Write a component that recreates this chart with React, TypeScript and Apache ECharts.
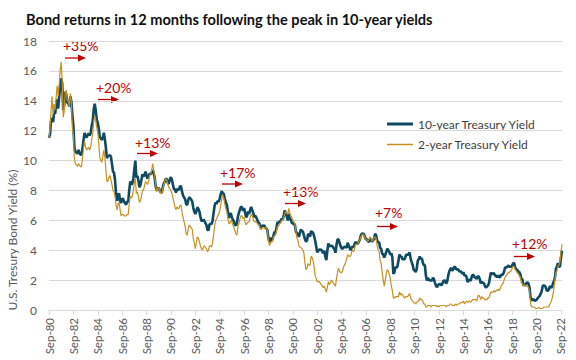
import React, { useEffect, useRef } from "react";
import * as echarts from "echarts";

const startYear = 1980;
const startMonth = 8; // Sep (0-based)
const monthNames = ["Jan", "Feb", "Mar", "Apr", "May", "Jun", "Jul", "Aug", "Sep", "Oct", "Nov", "Dec"];

// 10-year Treasury yield, monthly, Sep-80 .. Oct-22
const tenYear = [
  11.51, 11.75, 12.68, 12.84,
  12.57, 13.19, 13.12, 13.68, 14.10, 13.47, 14.28, 14.94, 15.50, 15.15, 13.39, 13.72,
  14.59, 14.43, 13.86, 13.87, 13.62, 14.30, 13.95, 13.06, 12.34, 10.91, 10.55, 10.54,
  10.46, 10.72, 10.51, 10.40, 10.38, 10.85, 11.38, 11.85, 11.65, 11.54, 11.69, 11.83,
  11.67, 11.84, 12.32, 12.63, 13.41, 13.80, 13.36, 12.72, 12.52, 12.16, 11.57, 11.50,
  11.38, 11.51, 11.86, 11.43, 10.85, 10.16, 10.31, 10.33, 10.37, 10.24, 9.78, 9.26,
  9.19, 8.70, 7.78, 7.30, 7.71, 7.80, 7.30, 7.17, 7.45, 7.43, 7.25, 7.11,
  7.08, 7.25, 7.25, 8.02, 8.61, 8.40, 8.45, 8.76, 9.42, 10.00, 8.86, 8.99,
  8.67, 8.21, 8.37, 8.72, 9.09, 8.92, 9.06, 9.26, 8.98, 8.80, 8.96, 9.11,
  9.09, 9.17, 9.36, 9.18, 8.86, 8.28, 8.02, 8.11, 8.19, 8.01, 7.87, 7.84,
  8.21, 8.47, 8.59, 8.79, 8.76, 8.48, 8.47, 8.75, 8.89, 8.72, 8.39, 8.08,
  8.09, 7.85, 8.11, 8.04, 8.07, 8.28, 8.27, 7.90, 7.65, 7.53, 7.42, 7.09,
  7.03, 7.34, 7.54, 7.48, 7.39, 7.26, 6.84, 6.59, 6.42, 6.59, 6.87, 6.77,
  6.60, 6.26, 5.98, 5.97, 6.04, 5.96, 5.81, 5.68, 5.36, 5.33, 5.72, 5.77,
  5.75, 5.97, 6.48, 6.97, 7.18, 7.10, 7.30, 7.24, 7.46, 7.74, 7.96, 7.81,
  7.78, 7.47, 7.20, 7.06, 6.63, 6.17, 6.28, 6.49, 6.20, 6.04, 5.93, 5.71,
  5.65, 5.81, 6.27, 6.51, 6.74, 6.91, 6.87, 6.64, 6.83, 6.53, 6.20, 6.30,
  6.58, 6.42, 6.69, 6.89, 6.71, 6.49, 6.22, 6.30, 6.21, 6.03, 5.88, 5.81,
  5.54, 5.57, 5.65, 5.64, 5.65, 5.50, 5.46, 5.34, 4.81, 4.53, 4.83, 4.65,
  4.72, 5.00, 5.23, 5.18, 5.54, 5.90, 5.79, 5.94, 5.92, 6.11, 6.03, 6.28,
  6.66, 6.52, 6.26, 5.99, 6.44, 6.10, 6.05, 5.83, 5.80, 5.74, 5.72, 5.24,
  5.16, 5.10, 4.89, 5.14, 5.39, 5.28, 5.24, 4.97, 4.73, 4.57, 4.65, 5.09,
  5.04, 4.91, 5.28, 5.21, 5.16, 4.93, 4.65, 4.26, 3.87, 3.94, 4.05, 4.03,
  4.05, 3.90, 3.81, 3.96, 3.57, 3.33, 3.98, 4.45, 4.27, 4.29, 4.30, 4.27,
  4.15, 4.08, 3.83, 4.35, 4.72, 4.73, 4.50, 4.28, 4.13, 4.10, 4.19, 4.23,
  4.22, 4.17, 4.50, 4.34, 4.14, 4.00, 4.18, 4.26, 4.20, 4.46, 4.54, 4.47,
  4.42, 4.57, 4.72, 4.99, 5.11, 5.11, 5.09, 4.88, 4.72, 4.73, 4.60, 4.56,
  4.76, 4.72, 4.56, 4.69, 4.75, 5.10, 5.00, 4.67, 4.52, 4.53, 4.15, 4.10,
  3.74, 3.74, 3.51, 3.68, 3.88, 4.10, 4.01, 3.89, 3.69, 3.81, 3.53, 2.42,
  2.52, 2.87, 2.82, 2.93, 3.29, 3.72, 3.56, 3.59, 3.40, 3.39, 3.40, 3.59,
  3.73, 3.69, 3.73, 3.85, 3.42, 3.20, 3.01, 2.70, 2.65, 2.54, 2.76, 3.29,
  3.39, 3.58, 3.41, 3.46, 3.17, 3.00, 3.00, 2.30, 1.98, 2.15, 2.01, 1.98,
  1.97, 1.97, 2.17, 2.05, 1.80, 1.62, 1.53, 1.68, 1.72, 1.75, 1.65, 1.72,
  1.91, 1.98, 1.96, 1.76, 1.93, 2.30, 2.58, 2.74, 2.81, 2.62, 2.72, 2.90,
  2.86, 2.71, 2.72, 2.71, 2.56, 2.60, 2.54, 2.42, 2.53, 2.30, 2.33, 2.21,
  1.88, 1.98, 2.04, 1.94, 2.20, 2.36, 2.32, 2.17, 2.17, 2.07, 2.26, 2.24,
  2.09, 1.78, 1.89, 1.81, 1.81, 1.64, 1.50, 1.56, 1.63, 1.76, 2.14, 2.49,
  2.43, 2.42, 2.48, 2.30, 2.30, 2.19, 2.32, 2.21, 2.20, 2.36, 2.35, 2.40,
  2.58, 2.86, 2.84, 2.87, 2.98, 2.91, 2.89, 2.89, 3.00, 3.15, 3.12, 2.83,
  2.71, 2.68, 2.57, 2.53, 2.40, 2.07, 2.06, 1.63, 1.70, 1.71, 1.81, 1.86,
  1.76, 1.50, 0.87, 0.66, 0.67, 0.73, 0.62, 0.65, 0.68, 0.79, 0.87, 0.93,
  1.08, 1.26, 1.61, 1.64, 1.62, 1.52, 1.32, 1.28, 1.37, 1.58, 1.56, 1.47,
  1.76, 1.93, 2.13, 2.75, 2.90, 3.14, 2.90, 2.90, 3.52, 3.98,
];

// 2-year Treasury yield, monthly, Sep-80 .. Oct-22
const twoYear = [
  11.5, 12.2, 13.3, 14.3,
  13.1, 13.8, 13.4, 14.2, 15.0, 14.3, 15.1, 16.0, 16.6, 15.3, 12.9, 13.3,
  14.6, 14.7, 14.0, 14.0, 13.6, 14.5, 13.9, 12.2, 11.7, 10.1, 9.8, 9.7,
  9.6, 9.8, 9.7, 9.6, 9.6, 10.2, 10.8, 11.3, 10.9, 10.7, 10.8, 10.9,
  10.7, 10.9, 11.4, 11.8, 12.6, 13.0, 12.7, 12.2, 11.9, 11.1, 10.2, 10.0,
  9.9, 10.3, 10.7, 10.2, 9.4, 8.6, 8.6, 8.9, 9.0, 8.7, 8.4, 8.0,
  7.9, 7.6, 7.0, 6.7, 7.1, 7.2, 6.7, 6.3, 6.4, 6.4, 6.3, 6.3,
  6.3, 6.4, 6.4, 7.1, 7.6, 7.5, 7.6, 8.0, 8.5, 8.8, 7.8, 7.9,
  7.6, 7.2, 7.3, 7.6, 8.0, 8.0, 8.3, 8.6, 8.5, 8.4, 8.6, 9.0,
  9.1, 9.3, 9.8, 9.4, 9.0, 8.4, 7.9, 8.1, 8.2, 8.0, 7.8, 7.8,
  8.1, 8.4, 8.6, 8.8, 8.7, 8.4, 8.2, 8.1, 8.0, 7.8, 7.5, 7.2,
  6.9, 6.7, 6.9, 6.8, 6.8, 7.0, 7.0, 6.5, 6.2, 5.9, 5.6, 5.1,
  5.0, 5.4, 5.7, 5.6, 5.5, 5.4, 4.8, 4.5, 4.1, 4.5, 4.9, 4.8,
  4.6, 4.3, 4.1, 4.0, 4.2, 4.3, 4.2, 4.1, 3.9, 4.0, 4.3, 4.3,
  4.2, 4.5, 5.0, 5.6, 6.0, 6.1, 6.3, 6.4, 6.6, 7.0, 7.4, 7.7,
  7.5, 7.1, 6.8, 6.6, 6.2, 5.8, 5.8, 6.0, 5.9, 5.7, 5.5, 5.3,
  5.1, 5.0, 5.6, 5.8, 6.1, 6.3, 6.3, 6.1, 6.2, 5.9, 5.7, 5.8,
  5.9, 5.9, 6.2, 6.4, 6.3, 6.1, 5.9, 5.9, 5.9, 5.8, 5.7, 5.7,
  5.4, 5.4, 5.5, 5.5, 5.5, 5.5, 5.5, 5.3, 4.7, 4.3, 4.5, 4.5,
  4.6, 4.9, 5.0, 5.0, 5.3, 5.6, 5.6, 5.8, 5.8, 6.0, 6.0, 6.2,
  6.4, 6.6, 6.5, 6.4, 6.8, 6.5, 6.3, 6.2, 6.0, 5.9, 5.8, 5.3,
  4.8, 4.7, 4.3, 4.2, 4.2, 4.1, 4.0, 3.8, 3.1, 2.7, 2.8, 3.1,
  3.0, 3.0, 3.6, 3.5, 3.3, 2.9, 2.3, 2.1, 1.9, 1.9, 1.9, 1.8,
  1.7, 1.6, 1.5, 1.6, 1.4, 1.2, 1.5, 1.9, 1.7, 1.8, 2.0, 1.9,
  1.8, 1.7, 1.6, 2.1, 2.5, 2.8, 2.6, 2.5, 2.5, 2.6, 2.9, 3.0,
  3.2, 3.4, 3.7, 3.6, 3.6, 3.6, 3.9, 4.0, 3.9, 4.2, 4.4, 4.4,
  4.4, 4.6, 4.7, 4.9, 5.0, 5.1, 5.0, 4.8, 4.7, 4.7, 4.6, 4.7,
  4.9, 4.8, 4.6, 4.7, 4.8, 4.9, 4.8, 4.3, 4.0, 3.9, 3.3, 3.1,
  2.5, 2.0, 1.6, 2.0, 2.4, 2.7, 2.6, 2.4, 2.1, 1.6, 1.3, 0.8,
  0.8, 0.9, 0.9, 0.9, 0.9, 1.2, 1.0, 1.1, 1.0, 0.9, 0.8, 0.9,
  0.9, 0.9, 1.0, 1.1, 0.8, 0.7, 0.6, 0.5, 0.5, 0.4, 0.5, 0.6,
  0.6, 0.8, 0.7, 0.7, 0.6, 0.4, 0.4, 0.2, 0.2, 0.3, 0.3, 0.3,
  0.2, 0.3, 0.3, 0.3, 0.3, 0.3, 0.2, 0.3, 0.2, 0.3, 0.3, 0.3,
  0.3, 0.3, 0.3, 0.2, 0.3, 0.3, 0.3, 0.4, 0.4, 0.3, 0.3, 0.3,
  0.4, 0.3, 0.4, 0.4, 0.4, 0.5, 0.5, 0.5, 0.6, 0.4, 0.5, 0.6,
  0.5, 0.6, 0.6, 0.5, 0.6, 0.7, 0.7, 0.7, 0.7, 0.6, 0.9, 1.0,
  0.9, 0.7, 0.9, 0.8, 0.8, 0.7, 0.7, 0.7, 0.8, 0.8, 1.0, 1.2,
  1.2, 1.2, 1.3, 1.2, 1.3, 1.3, 1.4, 1.3, 1.4, 1.6, 1.7, 1.8,
  2.0, 2.2, 2.3, 2.4, 2.5, 2.5, 2.6, 2.6, 2.8, 2.9, 2.9, 2.7,
  2.6, 2.5, 2.4, 2.3, 2.2, 1.8, 1.8, 1.6, 1.7, 1.6, 1.6, 1.6,
  1.5, 1.3, 0.5, 0.2, 0.2, 0.2, 0.2, 0.1, 0.1, 0.1, 0.2, 0.1,
  0.1, 0.1, 0.1, 0.2, 0.2, 0.2, 0.2, 0.2, 0.2, 0.4, 0.5, 0.7,
  1.0, 1.4, 2.0, 2.5, 2.6, 2.9, 3.0, 3.2, 3.9, 4.4,
];

const months = tenYear.map((_, i) => {
  const m = (startMonth + i) % 12;
  const y = startYear + Math.floor((startMonth + i) / 12);
  return monthNames[m] + "-" + String(y % 100).padStart(2, "0");
});

const seriesNames = ["10-year Treasury Yield", "2-year Treasury Yield"];
const seriesColors = ["#0e4a61", "#c9901f"];
const seriesWidths = [2.6, 1.2];

const annotationLabels = ["+35%", "+20%", "+13%", "+17%", "+13%", "+7%", "+12%"];
// pixel anchors of each annotation (text left, text middle y, arrow y)
const annotationAnchors = [
  [63, 45, 58],
  [96, 87, 99.5],
  [135, 142.5, 153.5],
  [220, 172.5, 184],
  [283, 191.5, 203.5],
  [375, 212.5, 226.5],
  [512, 243.5, 256.5],
];

const FONT = "Lato, 'Liberation Sans', sans-serif";
const RED = "#c00000";

export default function App() {
  const ref = useRef<HTMLDivElement>(null);
  useEffect(() => {
    const chart = echarts.init(ref.current!, null, { renderer: "svg" });
    const graphics: any[] = [];
    annotationLabels.forEach((t, i) => {
      const [x, ty, ay] = annotationAnchors[i];
      graphics.push({
        type: "text",
        x,
        y: ty,
        style: { text: t, fill: RED, font: `14px ${FONT}`, verticalAlign: "middle" },
      });
      graphics.push({
        type: "line",
        shape: { x1: x + 2, y1: ay, x2: x + 16, y2: ay },
        style: { stroke: RED, lineWidth: 1.3 },
      });
      graphics.push({
        type: "polygon",
        shape: { points: [[x + 15, ay - 3.5], [x + 23, ay], [x + 15, ay + 3.5]] },
        style: { fill: RED },
      });
    });
    // legend
    seriesNames.forEach((name, i) => {
      const y = 124 + i * 20.5;
      graphics.push({
        type: "line",
        shape: { x1: 387, y1: y, x2: 413, y2: y },
        style: { stroke: seriesColors[i], lineWidth: i === 0 ? 3 : 1.5 },
      });
      graphics.push({
        type: "text",
        x: 418,
        y,
        style: { text: name, fill: "#404040", font: `12px ${FONT}`, verticalAlign: "middle" },
      });
    });
    graphics.push({
      type: "text",
      x: 12,
      y: 240,
      rotation: Math.PI / 2,
      style: {
        text: "U.S. Tresury Bond Yield (%)",
        fill: "#595959",
        font: `12px ${FONT}`,
        align: "center",
        verticalAlign: "middle",
      },
    });

    chart.setOption({
      animation: false,
      backgroundColor: "#ffffff",
      title: {
        text: "Bond returns in 12 months following the peak in 10-year yields",
        left: 21,
        top: 7,
        textStyle: { fontFamily: FONT, fontSize: 14.6, fontWeight: "bold", color: "#111111" },
      },
      grid: { left: 49, right: 14, top: 41, bottom: 50 },
      xAxis: {
        type: "category",
        data: months,
        boundaryGap: false,
        axisLine: { lineStyle: { color: "#d9d9d9" } },
        axisTick: { interval: (i: number) => i % 24 === 0, length: 5, lineStyle: { color: "#d9d9d9" } },
        axisLabel: {
          interval: (i: number) => i % 24 === 0,
          rotate: 90,
          margin: 8,
          color: "#595959",
          fontFamily: FONT,
          fontSize: 11.5,
        },
        splitLine: { show: false },
      },
      yAxis: {
        type: "value",
        min: 0,
        max: 18,
        interval: 2,
        axisLine: { show: false },
        axisTick: { show: false },
        axisLabel: { color: "#595959", fontFamily: FONT, fontSize: 12, margin: 12 },
        splitLine: { lineStyle: { color: "#d9d9d9" } },
      },
      series: seriesNames.map((name, i) => ({
        name,
        type: "line",
        data: i === 0 ? tenYear : twoYear,
        showSymbol: false,
        symbol: "none",
        lineStyle: { color: seriesColors[i], width: seriesWidths[i] },
        itemStyle: { color: seriesColors[i] },
      })),
      graphic: graphics,
    });
    return () => chart.dispose();
  }, []);
  return <div ref={ref} style={{ width: 576, height: 360, position: "absolute", left: 0, top: 0 }} />;
}
